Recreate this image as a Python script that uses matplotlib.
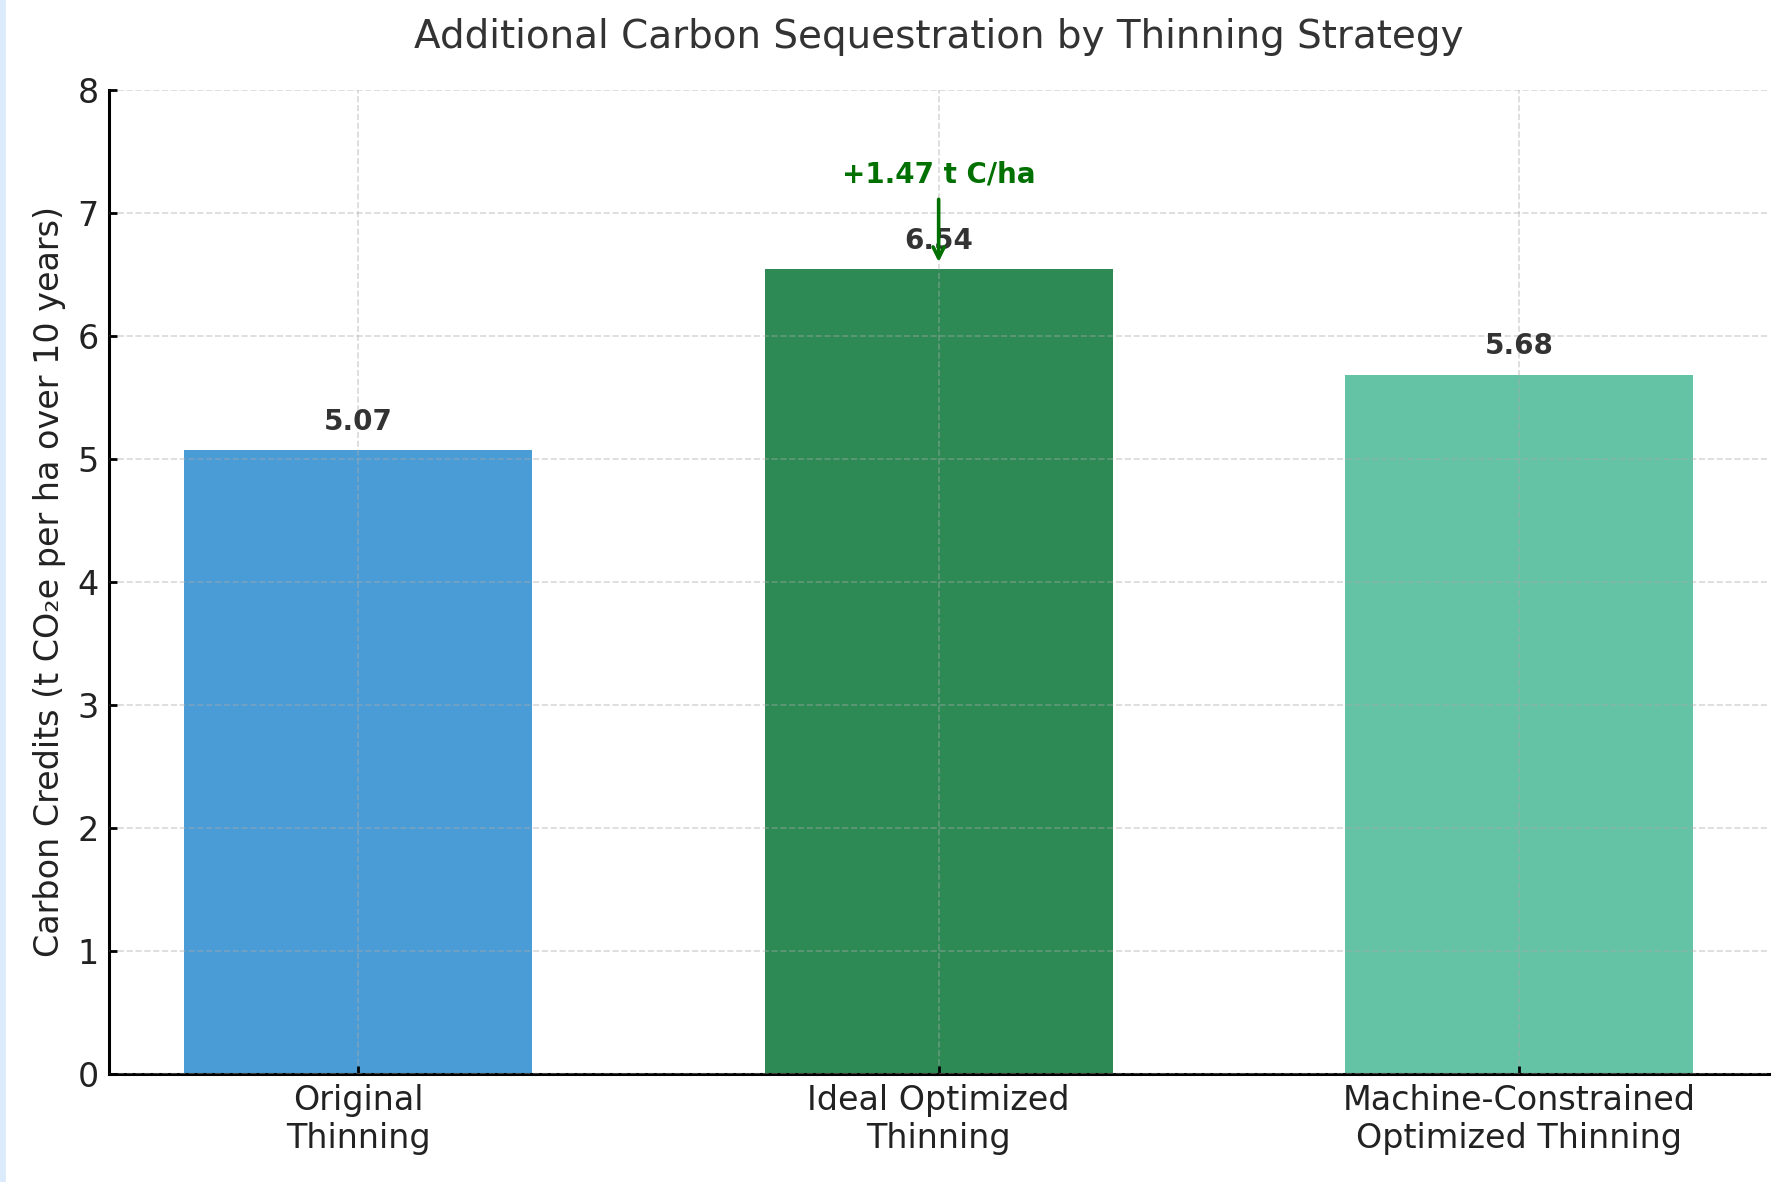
import numpy as np
import matplotlib
matplotlib.use("Agg")
import matplotlib.pyplot as plt
from matplotlib.patches import Rectangle

# data
strategies = ["Original\nThinning", "Ideal Optimized\nThinning", "Machine-Constrained\nOptimized Thinning"]
credits = [5.07, 6.54, 5.68]
gain_label = "+1.47 t C/ha"
bar_colors = ["#4a9cd6", "#2d8a55", "#64c2a5"]

fig = plt.figure(figsize=(8.96, 5.91), dpi=200)
ax = fig.add_axes([0.0606, 0.0914, 0.9264, 0.8326])

# thin light strip on the left edge of the picture
fig.patches.append(Rectangle((0, 0), 0.002, 1, transform=fig.transFigure,
                             color="#dcebfb", zorder=0))

x = np.arange(len(strategies))
bars = ax.bar(x, credits, width=0.6, color=bar_colors, zorder=1)

for b, v in zip(bars, credits):
    ax.text(b.get_x() + b.get_width() / 2, v + 0.12, "%.2f" % v,
            ha="center", va="bottom", fontsize=10, fontweight="bold", color="#333333", zorder=4)

ax.annotate(gain_label, xy=(1, 6.6), xytext=(1, 7.2),
            ha="center", va="bottom", fontsize=10, fontweight="bold", color="#007000",
            arrowprops=dict(arrowstyle="->", color="#007000", lw=1.3, shrinkA=2, shrinkB=0), zorder=5)

ax.set_ylim(0, 8)
ax.set_xticks(x)
ax.set_xticklabels(strategies, fontsize=12, color="#222222")
ax.tick_params(axis="y", labelsize=12, labelcolor="#222222")
ax.tick_params(direction="in", length=3, width=1)
ax.set_ylabel("Carbon Credits (t CO\u2082e per ha over 10 years)", fontsize=12, color="#222222")
ax.set_title("Additional Carbon Sequestration by Thinning Strategy", fontsize=14, color="#333333", pad=15)

ax.set_axisbelow(False)
ax.grid(True, linestyle="--", color="#aaaaaa", linewidth=0.6, alpha=0.45, zorder=3)
for s in ["top", "right"]:
    ax.spines[s].set_visible(False)
for s in ["left", "bottom"]:
    ax.spines[s].set_linewidth(1.1)

fig.savefig("out.png", dpi=200)
